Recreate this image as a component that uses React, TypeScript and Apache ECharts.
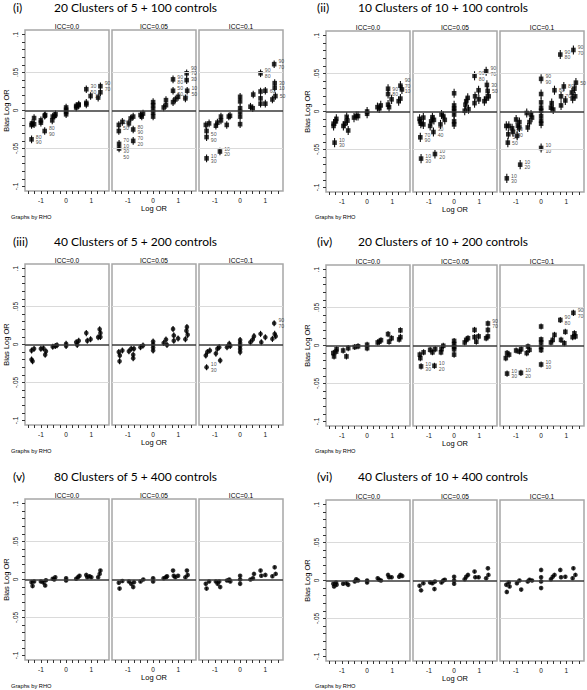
import React, { useEffect, useRef } from 'react';
import * as echarts from 'echarts';

// ---------- data ----------
const panelLabels = ['(i)', '(ii)', '(iii)', '(iv)', '(v)', '(vi)'];
const panelTitles = [
  '20 Clusters of 5 + 100 controls',
  '10 Clusters of 10 + 100 controls',
  '40 Clusters of 5 + 200 controls',
  '20 Clusters of 10 + 200 controls',
  '80 Clusters of 5 + 400 controls',
  '40 Clusters of 10 + 400 controls',
];
const iccLabels = ['ICC=0.0', 'ICC=0.05', 'ICC=0.1'];
const xAxisTitle = 'Log OR';
const yAxisTitle = 'Bias Log OR';
const byNote = 'Graphs by RHO';
const xTickLabels = [-1, 0, 1];
const xTickMarks = [-1.5, -1.25, -1, -0.75, -0.5, -0.25, 0, 0.25, 0.5, 0.75, 1, 1.25, 1.5];
const yTickLabels = [-0.1, -0.05, 0, 0.05, 0.1];
const yTickMarks = [-0.1, -0.09, -0.08, -0.07, -0.06, -0.05, -0.04, -0.03, -0.02, -0.01, 0,
  0.01, 0.02, 0.03, 0.04, 0.05, 0.06, 0.07, 0.08, 0.09, 0.1];
const refLines = [-0.05, 0.05];
const errHalf = [0.005, 0.006, 0.004, 0.004, 0.002, 0.002];
const markerShape = ['rect', 'rect', 'circle', 'rect', 'circle', 'circle'];

type Pt = (number | string)[];

// (i) 20 clusters of 5 + 100 controls
const p1a: Pt[] = [[-1.37, -0.019], [-1.35, -0.017], [-1.37, -0.038, '80\n90'], [-1.27, -0.018], [-1.27, -0.010],
  [-1.0, -0.016], [-1.0, -0.013], [-0.85, -0.007], [-0.83, -0.006], [-0.85, -0.027, '80\n90'],
  [-0.55, -0.013], [-0.53, -0.008], [-0.45, -0.007], [-0.42, -0.005],
  [0, 0.004], [0, 0.001], [0, -0.002], [0, -0.005],
  [0.4, 0.004], [0.4, 0.006], [0.5, 0.008], [0.5, 0.007],
  [0.8, 0.008], [0.8, 0.010], [0.8, 0.028, '30\n50'], [0.97, 0.019, '10'],
  [1.27, 0.017], [1.36, 0.032, '90\n70'], [1.36, 0.024]];
const p1b: Pt[] = [[-1.36, -0.019, '20\n50'], [-1.36, -0.027], [-1.35, -0.044], [-1.35, -0.050, '70\n10\n30\n50'],
  [-1.22, -0.015], [-0.96, -0.017], [-0.89, -0.0105], [-0.79, -0.008],
  [-0.79, -0.025, '80\n90'], [-0.79, -0.040, '70\n20'],
  [-0.5, -0.006], [-0.4, -0.004], [-0.45, -0.008],
  [0, 0.011], [0, 0.007], [0, 0.002], [0, -0.003], [0, -0.008],
  [0.42, 0.004], [0.51, 0.007], [0.51, 0.0136],
  [0.79, 0.041, '90\n80'], [0.79, 0.026, '50\n30'], [0.79, 0.011], [0.88, 0.0145], [0.99, 0.018, '10'],
  [1.28, 0.016], [1.33, 0.049, '90\n70\n30'], [1.33, 0.040], [1.35, 0.026, '10\n50']];
const p1c: Pt[] = [[-1.36, -0.019], [-1.33, -0.027], [-1.33, -0.035, '50\n90'], [-1.33, -0.063, '10\n30'], [-1.23, -0.017],
  [-0.96, -0.020], [-0.9, -0.016], [-0.8, -0.054, '10\n20'], [-0.76, -0.008], [-0.76, -0.013],
  [-0.53, -0.019], [-0.45, -0.008], [-0.4, -0.007],
  [0, 0.018], [0, 0.012], [0, 0.003], [0, -0.002], [0, -0.008], [0, -0.018],
  [0.41, 0.005], [0.5, 0.003], [0.52, 0.021],
  [0.81, 0.049, '90\n80'], [0.81, 0.025], [0.81, 0.016], [0.81, 0.009],
  [1.0, 0.026, '60'], [1.0, 0.009],
  [1.28, 0.0145], [1.35, 0.061, '90\n70'], [1.37, 0.036, '30'], [1.37, 0.030, '10'], [1.4, 0.019, '50']];

// (ii) 10 clusters of 10 + 100 controls
const p2a: Pt[] = [[-1.33, -0.016], [-1.33, -0.019], [-1.24, -0.013], [-1.22, -0.0097], [-1.29, -0.041, '10\n30'],
  [-0.94, -0.019], [-0.88, -0.016], [-0.81, -0.007], [-0.78, -0.012], [-0.75, -0.025],
  [-0.52, -0.008], [-0.43, -0.006], [-0.36, -0.006],
  [0, 0], [0, -0.003],
  [0.41, 0.0057], [0.48, 0.004], [0.54, 0.008],
  [0.83, 0.030, '90'], [0.83, 0.023, '80'], [0.83, 0.009], [0.87, 0.0057], [0.97, 0.016],
  [1.25, 0.0136], [1.32, 0.017], [1.32, 0.034, '90\n70\n10'], [1.38, 0.029]];
const p2b: Pt[] = [[-1.37, -0.0097], [-1.35, -0.013], [-1.32, -0.016], [-1.22, -0.008], [-1.22, -0.017],
  [-1.34, -0.034, '70\n90'], [-1.31, -0.062, '10\n30'],
  [-0.95, -0.019], [-0.91, -0.013], [-0.86, -0.0075], [-0.8, -0.011], [-0.82, -0.027, '30\n40'], [-0.76, -0.056, '10\n20'],
  [-0.54, -0.017], [-0.5, -0.004], [-0.43, -0.006], [-0.37, -0.011],
  [0, 0.024], [0, 0.008], [0, 0.004], [0, 0.001], [0, -0.004], [0, -0.013], [0, -0.017],
  [0.42, 0.001], [0.45, 0.009], [0.48, 0.0136], [0.54, 0.018], [0.57, 0.003],
  [0.81, 0.047, '90\n80'], [0.83, 0.02], [0.81, 0.011], [0.97, 0.028], [0.98, 0.016],
  [1.27, 0.053, '90\n70'], [1.3, 0.035, '30'], [1.33, 0.027, '50'], [1.27, 0.017], [1.37, 0.02], [1.2, 0.0136]];
const p2c: Pt[] = [[-1.38, -0.019], [-1.32, -0.041, '50'], [-1.3, -0.030, '20\n50'], [-1.28, -0.019], [-1.12, -0.027, '20\n40'], [-1.15, -0.022],
  [-1.36, -0.088, '10\n30'],
  [-0.99, -0.0105], [-0.92, -0.019], [-0.86, -0.014], [-0.86, -0.021], [-0.95, -0.032],
  [-0.83, -0.07, '10\n20'],
  [-0.57, -0.002], [-0.53, -0.021], [-0.46, -0.014], [-0.4, -0.004], [-0.36, -0.008],
  [0, 0.043, '90\n90'], [0, 0.023], [0, 0.012], [0, 0.005], [0, 0.001], [0, -0.006], [0, -0.012], [0, -0.016],
  [0, -0.048, '10\n10'],
  [0.39, 0.005], [0.42, 0.011], [0.48, 0.0026], [0.53, 0.028, '80'],
  [0.76, 0.075, '90\n80'], [0.79, 0.02, '70'], [0.79, 0.008], [0.9, 0.033, '80'], [0.96, 0.0145],
  [1.28, 0.081, '90\n70'], [1.22, 0.025], [1.32, 0.03], [1.38, 0.038, '50'], [1.35, 0.02], [1.25, 0.017]];

// (iii) 40 clusters of 5 + 200 controls
const p3a: Pt[] = [[-1.37, -0.008], [-1.37, -0.0197], [-1.33, -0.022], [-1.27, -0.0057],
  [-1.0, -0.0057], [-0.9, -0.005], [-0.83, -0.0135], [-0.8, -0.009],
  [-0.53, -0.003], [-0.43, -0.002], [-0.36, -0.001],
  [0, 0.001], [0, -0.002],
  [0.4, 0.003], [0.5, 0.005], [0.44, -0.0005],
  [0.8, 0.015], [0.84, 0.005], [0.97, 0.007],
  [1.27, 0.0096], [1.33, 0.02], [1.36, 0.015], [1.36, 0.01]];
const p3b: Pt[] = [[-1.36, -0.01], [-1.33, -0.022], [-1.32, -0.0144], [-1.22, -0.008],
  [-0.96, -0.009], [-0.87, -0.0057], [-0.79, -0.0135], [-0.79, -0.018], [-0.76, -0.0057],
  [-0.5, -0.0035], [-0.4, -0.0013],
  [0, 0.004], [0, 0], [0, -0.004], [0, -0.008],
  [0.42, 0.002], [0.51, 0.0066], [0.55, -0.0005],
  [0.79, 0.0205], [0.82, 0.012], [0.82, 0.005], [0.99, 0.008],
  [1.28, 0.007], [1.34, 0.023], [1.37, 0.0127], [1.32, 0.018]];
const p3c: Pt[] = [[-1.36, -0.0144], [-1.3, -0.01], [-1.2, -0.008], [-1.33, -0.030, '10\n30'],
  [-0.96, -0.012], [-0.9, -0.0057], [-0.83, -0.0035], [-0.79, -0.021],
  [-0.52, -0.0035], [-0.43, 0.001], [-0.39, -0.002],
  [0, 0.006], [0, 0.002], [0, -0.002], [0, -0.006], [0, -0.01],
  [0.41, 0.003], [0.5, 0.0066], [0.55, 0.011],
  [0.81, 0.014], [0.84, 0.003], [1.0, 0.0096],
  [1.28, 0.0074], [1.37, 0.014], [1.35, 0.028, '90\n70'], [1.41, 0.011]];

// (iv) 20 clusters of 10 + 200 controls
const p4a: Pt[] = [[-1.34, -0.01], [-1.31, -0.0144], [-1.23, -0.008], [-1.21, -0.005],
  [-0.95, -0.0066], [-0.82, -0.0144], [-0.75, -0.0035],
  [-0.49, -0.002], [-0.36, -0.001],
  [0, 0.001], [0, -0.0035],
  [0.42, 0.004], [0.48, 0.005], [0.55, 0.007],
  [0.83, 0.015], [0.87, 0.005], [0.97, 0.0096],
  [1.27, 0.008], [1.32, 0.02], [1.32, 0.011]];
const p4b: Pt[] = [[-1.36, -0.012], [-1.34, -0.0166], [-1.21, -0.009], [-1.31, -0.0275, '10\n30'],
  [-0.95, -0.0057], [-0.86, -0.009], [-0.75, -0.0048], [-0.78, -0.0267, '10\n20'],
  [-0.5, -0.0048], [-0.43, -0.0004], [-0.52, -0.009],
  [0, 0.006], [0, 0.002], [0, -0.002], [0, -0.005], [0, -0.012],
  [0.42, 0.004], [0.48, 0.0074], [0.55, 0.0096],
  [0.81, 0.0205], [0.81, 0.011], [0.88, 0.005], [0.97, 0.012],
  [1.27, 0.0096], [1.34, 0.012], [1.34, 0.029, '90\n70'], [1.34, 0.0205]];
const p4c: Pt[] = [[-1.4, -0.0166], [-1.35, -0.01], [-1.27, -0.012], [-1.35, -0.037, '10\n30'],
  [-0.99, -0.0066], [-0.86, -0.008], [-0.79, -0.005], [-0.8, -0.036, '10\n20'],
  [-0.52, -0.0013], [-0.46, -0.0057], [-0.57, -0.01],
  [0, 0.025], [0, 0.008], [0, 0.004], [0, -0.002], [0, -0.006], [0, -0.025, '10\n10'],
  [0.39, 0.004], [0.46, 0.0074], [0.53, 0.014],
  [0.76, 0.0336, '90\n80'], [0.79, 0.0074], [0.96, 0.018], [0.92, 0.003],
  [1.28, 0.043, '90\n70'], [1.25, 0.011], [1.32, 0.016], [1.36, 0.012]];

// (v) 80 clusters of 5 + 400 controls
const p5a: Pt[] = [[-1.37, -0.0035], [-1.33, -0.0087], [-1.27, -0.0026],
  [-1.0, -0.0026], [-0.9, -0.004], [-0.83, -0.0078], [-0.8, -0.001],
  [-0.53, 0.001], [-0.47, 0], [-0.43, 0.003],
  [0, 0.0017], [0, -0.0013],
  [0.4, 0.001], [0.47, 0.003], [0.53, 0.005],
  [0.8, 0.006], [0.84, 0.003], [0.93, 0.0043], [1.0, 0.003],
  [1.27, 0.003], [1.33, 0.0074], [1.36, 0.0117]];
const p5b: Pt[] = [[-1.36, -0.0043], [-1.33, -0.012], [-1.22, -0.002],
  [-0.96, -0.0026], [-0.87, -0.0057], [-0.79, -0.01], [-0.76, -0.0035],
  [-0.5, -0.0026], [-0.39, 0],
  [0, 0.0017], [0, -0.0026],
  [0.42, 0.0017], [0.51, 0.003], [0.55, 0.0043],
  [0.79, 0.0117], [0.82, 0.005], [0.88, 0.003], [0.99, 0.005],
  [1.28, 0.003], [1.34, 0.0117], [1.37, 0.006]];
const p5c: Pt[] = [[-1.36, -0.0057], [-1.33, -0.012], [-1.23, -0.0026],
  [-0.96, -0.0026], [-0.89, -0.0057], [-0.79, -0.01], [-0.83, -0.0026],
  [-0.52, -0.0013], [-0.43, 0], [-0.39, -0.0026],
  [0, 0.005], [0, 0], [0, -0.0057],
  [0.41, 0], [0.51, 0.0017], [0.55, 0.0074],
  [0.81, 0.0117], [0.84, 0.005], [1.0, 0.006],
  [1.28, 0.0043], [1.37, 0.016], [1.41, 0.0074]];

// (vi) 40 clusters of 10 + 400 controls
const p6a: Pt[] = [[-1.34, -0.0043], [-1.31, -0.0078], [-1.23, -0.0026], [-1.21, -0.0057],
  [-0.95, -0.0043], [-0.82, -0.0035], [-0.75, -0.0057],
  [-0.49, -0.0013], [-0.36, 0], [-0.43, 0.0017],
  [0, 0], [0, -0.0026],
  [0.42, 0.003], [0.48, 0.0009], [0.55, 0],
  [0.83, 0.0074], [0.87, 0.0043], [0.97, 0.0043],
  [1.27, 0.005], [1.32, 0.0074], [1.39, 0.006]];
const p6b: Pt[] = [[-1.37, -0.007], [-1.31, -0.013], [-1.22, -0.0035],
  [-0.95, -0.0026], [-0.86, -0.0035], [-0.78, -0.0113], [-0.76, -0.0013],
  [-0.5, -0.0026], [-0.43, 0], [-0.37, 0.0009],
  [0, 0.005], [0, 0], [0, -0.0043],
  [0.42, 0.0017], [0.48, 0.005], [0.55, 0.0074],
  [0.81, 0.0117], [0.84, 0.0043], [0.97, 0.0043],
  [1.27, 0.003], [1.34, 0.016], [1.36, 0.0074]];
const p6c: Pt[] = [[-1.38, -0.0057], [-1.36, -0.015], [-1.28, -0.0026], [-1.25, -0.0078],
  [-0.96, -0.0035], [-0.86, 0], [-0.79, -0.012],
  [-0.53, -0.0013], [-0.46, 0.0009], [-0.36, 0],
  [0, 0.0139], [0, 0.0043], [0, -0.0013], [0, -0.01],
  [0.39, 0.0017], [0.46, 0.005], [0.53, 0.0074],
  [0.76, 0.0139], [0.79, 0.0043], [0.96, 0.005],
  [1.28, 0.016], [1.25, 0.003], [1.36, 0.0074]];

const panels: Pt[][][] = [
  [p1a, p1b, p1c], [p2a, p2b, p2c], [p3a, p3b, p3c],
  [p4a, p4b, p4c], [p5a, p5b, p5c], [p6a, p6b, p6c],
];

// ---------- layout ----------
const W = 587;
const H = 690;
const colX = [0, 301];
const rowY = [0, 234, 469];
const boxOff = [25, 112, 199];
const boxW = 84;
const boxH = 161;
const XMIN = -1.63;
const XMAX = 1.7;
const YMIN = -0.106;
const YMAX = 0.106;
const SANS = '"Liberation Sans", Arial, sans-serif';
const TITLE_FONT = 'Lato, "Open Sans", sans-serif';

function fmtY(v: number) {
  if (v === 0) return '0';
  const s = String(Math.abs(v)).replace(/^0/, '');
  return (v < 0 ? '-' : '') + s;
}

const LABEL_STYLE = { position: 'right', distance: 2, fontSize: 5.2, lineHeight: 5.6, color: '#1a1a1a', fontFamily: SANS };

function buildOption() {
  const grids: any[] = [];
  const xAxes: any[] = [];
  const yAxes: any[] = [];
  const series: any[] = [];
  const graphics: any[] = [];

  panels.forEach((sub, p) => {
    const col = p % 2;
    const row = Math.floor(p / 2);
    const ox = colX[col];
    const oy = rowY[row];
    const topY = oy + 30 + col;

    graphics.push({
      type: 'text', x: ox + (col ? 16 : 13), y: oy + 7,
      style: { text: panelLabels[p], font: `12px ${TITLE_FONT}`, fill: '#000', align: 'left', verticalAlign: 'middle', textAlign: 'left', textVerticalAlign: 'middle' },
    });
    graphics.push({
      type: 'text', x: ox + (col ? 57 : 54), y: oy + 7,
      style: { text: panelTitles[p], font: `12px ${TITLE_FONT}`, fill: '#000', align: 'left', verticalAlign: 'middle', textAlign: 'left', textVerticalAlign: 'middle' },
    });
    graphics.push({
      type: 'text', x: ox + (col ? 14 : 11), y: oy + 217,
      style: { text: byNote, font: `5.7px ${SANS}`, fill: '#000', align: 'left', verticalAlign: 'middle', textAlign: 'left', textVerticalAlign: 'middle' },
    });

    sub.forEach((pts, k) => {
      const gi = grids.length;
      const left = ox + boxOff[k];
      grids.push({
        left, top: topY, width: boxW, height: boxH,
        show: true, borderColor: '#a6a6a6', borderWidth: 1.5, backgroundColor: '#fff',
      });
      graphics.push({
        type: 'text', x: left + boxW / 2, y: topY - 3.5,
        style: { text: iccLabels[k], font: `6.6px ${SANS}`, fill: '#000', align: 'center', verticalAlign: 'middle', textAlign: 'center', textVerticalAlign: 'middle' },
      });
      xAxes.push({
        type: 'value', gridIndex: gi, min: XMIN, max: XMAX, position: 'bottom',
        axisLine: { show: false, onZero: false },
        axisTick: { show: true, customValues: xTickMarks, length: 3, lineStyle: { color: '#333', width: 1 } },
        axisLabel: { show: true, customValues: xTickLabels, fontSize: 6.5, color: '#111', margin: 6, fontFamily: SANS, formatter: (v: number) => String(v) },
        splitLine: { show: false },
        name: k === 1 ? xAxisTitle : '', nameLocation: 'middle', nameGap: 13,
        nameTextStyle: { fontSize: 7.5, color: '#000', fontFamily: SANS },
      });
      yAxes.push({
        type: 'value', gridIndex: gi, min: YMIN, max: YMAX, position: 'left',
        axisLine: { show: false, onZero: false },
        axisTick: { show: k === 0, customValues: yTickMarks, length: 3, lineStyle: { color: '#333', width: 1 } },
        axisLabel: { show: k === 0, customValues: yTickLabels, rotate: 90, fontSize: 6.5, color: '#111', margin: 6, fontFamily: SANS, formatter: fmtY },
        splitLine: { show: false },
        name: k === 0 ? yAxisTitle : '', nameLocation: 'middle', nameGap: 15,
        nameTextStyle: { fontSize: 7.5, color: '#000', fontFamily: SANS },
      });
      const e = errHalf[p];
      series.push({
        type: 'custom', xAxisIndex: gi, yAxisIndex: gi, z: 2, silent: true,
        data: pts.map((d) => [d[0] as number, (d[1] as number) - e, (d[1] as number) + e]),
        encode: { x: 0, y: [1, 2] },
        renderItem: (_params: any, api: any) => {
          const a = api.coord([api.value(0), api.value(1)]);
          const b = api.coord([api.value(0), api.value(2)]);
          return { type: 'line', shape: { x1: a[0], y1: a[1], x2: b[0], y2: b[1] }, style: { stroke: '#111', lineWidth: 1.1 } };
        },
        markLine: {
          silent: true, symbol: ['none', 'none'], label: { show: false },
          data: [
            ...refLines.map((v) => ({ yAxis: v, lineStyle: { color: '#dadada', width: 1, type: 'solid' } })),
            { yAxis: 0, lineStyle: { color: '#3a3a3a', width: 1.5, type: 'solid' } },
          ],
        },
      });
      series.push({
        type: 'scatter', xAxisIndex: gi, yAxisIndex: gi, z: 3, silent: true,
        symbol: markerShape[p], symbolSize: 4.6,
        itemStyle: { color: '#000' },
        label: { show: false, ...LABEL_STYLE },
        data: pts.map((d) => d[2]
          ? { value: [d[0], d[1]], label: { show: true, ...LABEL_STYLE, formatter: String(d[2]) } }
          : { value: [d[0], d[1]] }),
      });
    });
  });

  return {
    animation: false,
    backgroundColor: '#fff',
    grid: grids,
    xAxis: xAxes,
    yAxis: yAxes,
    series,
    graphic: graphics,
  };
}

export default function App() {
  const ref = useRef<HTMLDivElement>(null);
  useEffect(() => {
    if (!ref.current) return;
    const chart = echarts.init(ref.current, null, { renderer: 'svg' });
    chart.setOption(buildOption() as any);
    return () => chart.dispose();
  }, []);
  return <div ref={ref} style={{ position: 'fixed', left: 0, top: 0, width: W, height: H, background: '#fff' }} />;
}
